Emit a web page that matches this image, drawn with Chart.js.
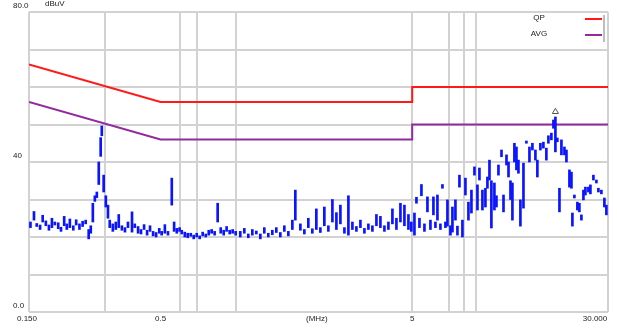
<!DOCTYPE html>
<html>
<head>
<meta charset="utf-8">
<script src="https://cdn.jsdelivr.net/npm/chart.js@4.4.1/dist/chart.umd.min.js"></script>
<style>
  html, body { margin: 0; padding: 0; background: #fff; }
  canvas { display: block; }
</style>
</head>
<body>
<canvas id="chart" width="617" height="328"></canvas>
<script>
// Peak scan, one min/max column per frequency (MHz, dBuV)
const scanFreq = [
  0.152, 0.157, 0.161, 0.166, 0.170, 0.175, 0.180, 0.185, 0.190, 0.196,
  0.201, 0.207, 0.212, 0.218, 0.225, 0.231, 0.238, 0.245, 0.252, 0.259,
  0.264, 0.269, 0.274, 0.279, 0.284, 0.289, 0.292, 0.297, 0.303, 0.309,
  0.314, 0.323, 0.332, 0.341, 0.351, 0.361, 0.371, 0.385, 0.395, 0.407,
  0.418, 0.430, 0.442, 0.454, 0.467, 0.480, 0.494, 0.505, 0.520, 0.535,
  0.554, 0.566, 0.580, 0.595, 0.607, 0.624, 0.641, 0.659, 0.677, 0.696,
  0.715, 0.735, 0.756, 0.777, 0.798, 0.820, 0.843, 0.867, 0.891, 0.915,
  0.941, 0.967, 0.994,
  1.037, 1.076, 1.116, 1.158, 1.201, 1.246, 1.292, 1.340, 1.390, 1.442,
  1.496, 1.552, 1.610, 1.670, 1.716, 1.797, 1.864, 1.933, 2.005, 2.080,
  2.158, 2.238, 2.322, 2.409, 2.499, 2.592, 2.689, 2.789, 2.893, 3.001,
  3.113, 3.229, 3.349, 3.474, 3.604, 3.738, 3.878, 4.022, 4.172, 4.328,
  4.490, 4.657, 4.831, 4.960,
  5.104, 5.198, 5.343, 5.441, 5.593, 5.748, 5.908, 6.072, 6.184, 6.299,
  6.474, 6.594, 6.777, 6.903, 7.095, 7.226, 7.427, 7.564, 7.704, 7.918,
  8.138, 8.365, 8.598, 8.838, 9.083, 9.251, 9.508, 9.772, 9.953, 10.14,
  10.32, 10.61, 10.81, 11.01, 11.32, 11.53, 11.85, 12.07, 12.29, 12.51,
  12.74, 12.98, 13.22, 13.46, 13.84, 14.22, 14.62, 15.02, 15.44, 15.72,
  16.16, 16.61, 17.07, 17.39, 17.87, 18.21, 18.54, 18.87, 19.24, 19.59,
  20.14, 20.51, 21.08, 21.47, 21.66, 22.06, 22.67, 23.09, 23.52, 23.96,
  24.40, 25.08, 25.54, 26.25, 26.98, 27.48, 28.24, 29.03, 29.56
];
const scanLow = [
  22.5, 24.5, 22.8, 22.0, 24.0, 23.0, 21.8, 22.5, 23.2, 22.2,
  21.5, 23.0, 22.0, 22.5, 21.8, 23.2, 22.0, 22.8, 23.5, 19.5,
  21.0, 24.0, 29.5, 30.5, 34.0, 41.5, 47.0, 32.0, 28.0, 25.0,
  22.5, 21.5, 22.0, 22.5, 21.8, 21.3, 22.5, 21.3, 22.5, 21.0,
  20.8, 22.0, 20.5, 21.5, 20.3, 20.0, 21.0, 20.5, 21.0, 20.5,
  28.5, 21.5, 21.0, 21.5, 20.8, 20.0, 19.8, 20.2, 19.5, 20.0,
  19.5, 20.3, 20.0, 20.5, 21.0, 20.5, 24.0, 21.0, 20.5, 21.5,
  20.8, 21.0, 20.5,
  20.0, 21.0, 19.8, 20.5, 20.8, 19.5, 21.0, 20.0, 20.6, 21.2,
  20.0, 21.5, 20.3, 22.0, 24.5, 21.8, 20.8, 22.5, 21.0, 22.0,
  21.2, 23.0, 21.5, 24.0, 22.0, 23.5, 21.0, 20.5, 22.0, 21.5,
  22.5, 21.0, 22.0, 21.5, 23.0, 22.5, 21.5, 22.0, 23.5, 22.0,
  24.0, 23.0, 22.0, 21.5,
  20.5, 29.0, 22.5, 31.0, 21.5, 26.7, 22.0, 25.9, 22.5, 24.5,
  22.0, 33.0, 22.5, 22.9, 20.5, 21.3, 24.5, 20.5, 33.3, 20.0,
  31.2, 24.5, 26.4, 36.5, 27.2, 35.2, 27.2, 28.0, 33.0, 35.2,
  22.4, 27.2, 28.0, 36.5, 41.4, 26.7, 39.2, 36.0, 30.0, 24.5,
  40.0, 37.9, 37.0, 22.9, 27.7, 45.0, 40.0, 43.2, 40.5, 36.0,
  43.2, 43.7, 40.5, 45.0, 45.9, 49.0, 42.7, 45.4, 26.7, 41.9,
  41.9, 40.0, 33.3, 33.0, 22.9, 30.4, 27.2, 26.7, 24.5, 29.9,
  31.2, 32.0, 31.5, 35.2, 34.4, 32.0, 31.5, 28.0, 25.9
];
const scanHigh = [
  24.0, 26.8, 23.6, 23.2, 25.8, 24.3, 23.2, 25.0, 24.0, 23.8,
  22.6, 25.5, 23.5, 24.8, 23.0, 24.6, 23.5, 24.2, 24.5, 22.0,
  23.0, 29.0, 31.0, 32.0, 40.0, 46.5, 49.6, 36.5, 31.0, 28.5,
  24.5, 23.5, 24.0, 26.0, 23.0, 22.5, 24.0, 26.7, 23.5, 22.8,
  22.0, 23.3, 21.8, 23.0, 21.5, 21.2, 22.3, 21.5, 23.3, 21.5,
  35.7, 24.0, 22.3, 22.5, 21.8, 21.3, 21.0, 21.0, 20.5, 21.0,
  20.3, 21.3, 20.8, 21.8, 22.0, 21.5, 29.0, 22.5, 21.8, 22.8,
  21.8, 22.0, 21.5,
  21.5, 22.3, 20.8, 22.0, 21.6, 20.8, 22.5, 21.0, 21.8, 22.5,
  21.2, 23.0, 21.5, 24.5, 32.5, 23.5, 22.0, 25.0, 22.2, 27.5,
  22.5, 28.0, 23.0, 30.0, 26.5, 28.5, 22.5, 31.0, 24.0, 22.8,
  24.5, 22.3, 23.5, 23.0, 26.0, 25.5, 23.0, 24.0, 27.5, 25.0,
  29.0, 28.5, 26.0, 24.0,
  26.4, 30.6, 25.0, 34.0, 23.5, 30.7, 24.5, 30.7, 24.0, 31.2,
  23.5, 34.0, 24.0, 29.9, 23.0, 28.0, 29.9, 22.9, 36.5, 24.5,
  35.7, 29.3, 32.5, 38.7, 33.9, 38.4, 32.5, 33.0, 36.0, 40.5,
  35.0, 34.4, 31.0, 39.2, 43.2, 31.2, 41.9, 40.0, 35.0, 34.4,
  45.0, 44.0, 40.5, 29.9, 39.7, 45.6, 44.0, 45.0, 43.2, 40.5,
  45.0, 45.3, 43.7, 47.0, 47.7, 51.2, 52.0, 46.4, 33.0, 45.9,
  44.0, 43.2, 37.9, 37.3, 26.4, 31.2, 29.3, 29.0, 25.9, 32.5,
  33.3, 33.3, 33.9, 36.5, 35.2, 33.0, 32.5, 30.4, 28.5
];

// Limit lines (class B)
const qpFreq = [0.15, 0.5, 5, 5, 30];
const qpLimit = [66, 56, 56, 60, 60];
const avgFreq = [0.15, 0.5, 5, 5, 30];
const avgLimit = [56, 46, 46, 50, 50];

// Marked peak
const markFreq = [18.54];
const markLevel = [53.4];

// Grid and labels
const gridFreq = [0.15, 0.3, 0.6, 0.7, 1, 5, 7, 8, 9, 30];
const xLabelFreq = [0.15, 0.5, 2.09, 5, 30];
const xLabelText = ["0.150", "0.5", "(MHz)", "5", "30.000"];
const yLabelLevel = [80, 40, 0];
const yLabelText = ["80.0", "40", "0.0"];
const legendNames = ["QP", "AVG"];
const legendColors = ["#ff1a1a", "#922b9c"];

const toPoints = (xs, ys) => xs.map((x, i) => ({ x: x, y: ys[i] }));

const textPlugin = {
    id: "emcText",
    afterDraw(chart) {
        const ctx = chart.ctx;
        const xs = chart.scales.x;
        const ys = chart.scales.y;
        ctx.save();
        ctx.font = '8px "Liberation Sans", Arial, sans-serif';
        ctx.fillStyle = "#222";

        // y labels, left of the plot, just above their grid line
        ctx.textAlign = "left";
        ctx.textBaseline = "bottom";
        yLabelLevel.forEach((v, i) => {
            ctx.fillText(yLabelText[i], 13, ys.getPixelForValue(v) - 2);
        });
        ctx.textBaseline = "middle";
        ctx.fillText("dBuV", 45, 4);

        // x labels
        ctx.textAlign = "center";
        xLabelFreq.forEach((f, i) => {
            let px = xs.getPixelForValue(f);
            if (i === 0) px -= 2;
            if (i === xLabelFreq.length - 1) px -= 13;
            ctx.fillText(xLabelText[i], px, 319);
        });

        // legend
        legendNames.forEach((name, i) => {
            const ly = 19 + i * 16;
            ctx.fillStyle = "#222";
            ctx.fillText(name, 539, ly - 1);
            ctx.strokeStyle = legendColors[i];
            ctx.lineWidth = 2;
            ctx.beginPath();
            ctx.moveTo(585, ly);
            ctx.lineTo(602, ly);
            ctx.stroke();
        });
        ctx.strokeStyle = "#bdbdbd";
        ctx.lineWidth = 2;
        ctx.beginPath();
        ctx.moveTo(604, 15);
        ctx.lineTo(604, 42);
        ctx.stroke();
        ctx.restore();
    }
};

const chart = new Chart(document.getElementById("chart"), {
    type: "bar",
    data: {
        datasets: [
            {
                type: "scatter",
                data: toPoints(markFreq, markLevel),
                pointStyle: "triangle",
                pointRadius: 3.5,
                backgroundColor: "rgba(0,0,0,0)",
                borderColor: "#555",
                borderWidth: 1,
                order: 0
            },
            {
                label: "Peak",
                data: toPoints(scanFreq, scanFreq.map((f, i) => [scanLow[i], scanHigh[i]])),
                backgroundColor: "#0a14ff",
                borderWidth: 0,
                barThickness: 2,
                grouped: false,
                order: 1
            },
            {
                type: "line",
                label: "QP",
                data: toPoints(qpFreq, qpLimit),
                borderColor: legendColors[0],
                borderWidth: 2,
                pointRadius: 0,
                tension: 0,
                order: 2
            },
            {
                type: "line",
                label: "AVG",
                data: toPoints(avgFreq, avgLimit),
                borderColor: legendColors[1],
                borderWidth: 2,
                pointRadius: 0,
                tension: 0,
                order: 2
            }
        ]
    },
    options: {
        responsive: false,
        devicePixelRatio: 1,
        animation: false,
        layout: { padding: { left: 29, top: 12, right: 9, bottom: 16 } },
        plugins: {
            legend: { display: false },
            tooltip: { enabled: false }
        },
        scales: {
            x: {
                type: "logarithmic",
                min: 0.15,
                max: 30,
                offset: false,
                afterBuildTicks: (scale) => {
                    scale.ticks = gridFreq.map(v => ({ value: v }));
                },
                ticks: { display: false },
                grid: { color: "#d2d2d2", lineWidth: 2, drawTicks: false, offset: false },
                border: { display: false }
            },
            y: {
                type: "linear",
                min: 0,
                max: 80,
                ticks: { display: false, stepSize: 10 },
                grid: { color: "#d2d2d2", lineWidth: 2, drawTicks: false },
                border: { display: false }
            }
        }
    },
    plugins: [textPlugin]
});
</script>
</body>
</html>
